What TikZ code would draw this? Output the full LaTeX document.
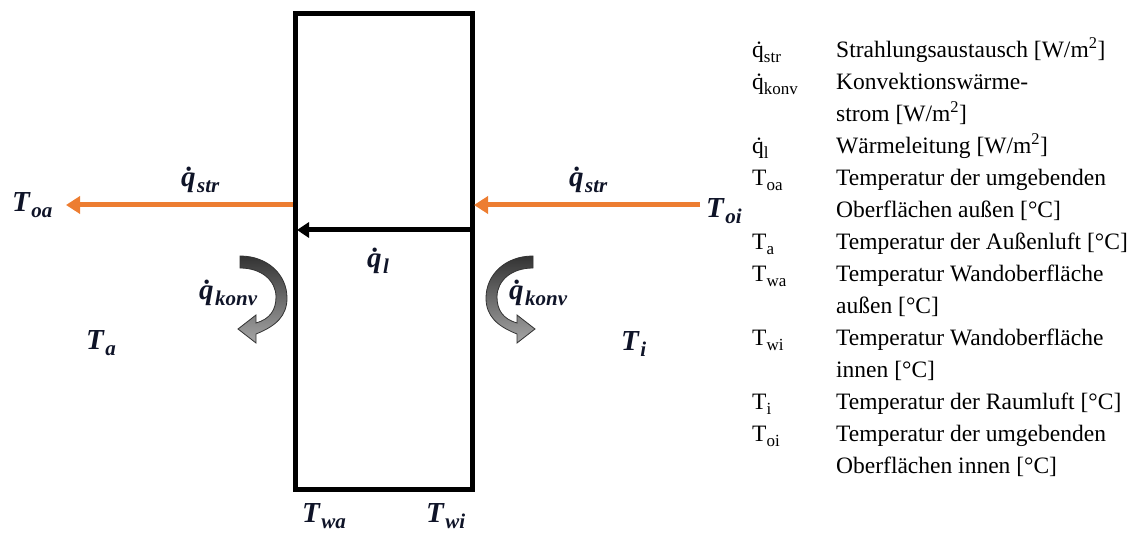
\documentclass[tikz,border=0pt]{standalone}
\usepackage{fontspec}
\setmainfont{Liberation Serif}
\usetikzlibrary{arrows.meta}
\definecolor{orng}{RGB}{237,125,49}
\definecolor{labcol}{RGB}{15,20,40}
\newcommand{\lsub}[1]{\hspace{1.5pt}\raisebox{-6pt}{\fontsize{21}{21}\selectfont #1}}
\newcommand{\gsub}[1]{\raisebox{-4.5pt}{\fontsize{17}{17}\selectfont #1}}
\newcommand{\qd}{\.{q}}
\tikzset{
  lab/.style={font=\fontsize{29}{30}\selectfont\bfseries\itshape, text=labcol, inner sep=0pt, anchor=base west},
  leg/.style={font=\fontsize{23.5}{28}\selectfont, anchor=base west, inner sep=0pt},
  oarrow/.style={draw=orng, line width=5pt, -{Triangle[length=14pt,width=17pt]}},
  barrow/.style={draw=black, line width=5pt, -{Triangle[length=12pt,width=15pt]}},
  konvarrow/.pic={
    \path[draw=black!80, line width=0.8pt, top color=black!80, bottom color=black!35]
      (0,0) .. controls (28,0) and (47,19) .. (47,42)
      .. controls (47,60) and (36,70) .. (16,78)
      -- (16,87) -- (-2,73) -- (16,59) -- (16,67)
      .. controls (30,63) and (36,54) .. (36,41)
      .. controls (36,25) and (22,12) .. (0,12) -- cycle;
  }
}
\begin{document}
\begin{tikzpicture}[x=1pt,y=-1pt]
\useasboundingbox (0,0) rectangle (1144,534);
% wall
\draw[line width=5pt] (295,14) rectangle (472,490);
\coordinate (wLo) at (293,205);
\coordinate (wRo) at (474,205);
\coordinate (wRl) at (472,230);
\coordinate (wLl) at (297,230);
\coordinate (oaEnd) at (66,205);
\coordinate (oiStart) at (700,205);
\draw[oarrow] (wLo) -- (oaEnd);
\draw[oarrow] (oiStart) -- (wRo);
\draw[barrow] (wRl) -- (wLl);
% convection arrows
\pic at (240,256) {konvarrow};
\pic[xscale=-1] at (533,256) {konvarrow};
% labels
\node[lab] (qstrL) at (181,187) {\qd\lsub{str}};
\node[lab] (qstrR) at (569,187) {\qd\lsub{str}};
\node[lab] (Toa) at (12,212) {T\lsub{oa}};
\node[lab] (Toi) at (706,218) {T\lsub{oi}};
\node[lab] (ql) at (367,268) {\qd\lsub{l}};
\node[lab] (qkL) at (199,300) {\qd\lsub{konv}};
\node[lab] (qkR) at (509,300) {\qd\lsub{konv}};
\node[lab] (Ta) at (86,350) {T\lsub{a}};
\node[lab] (Ti) at (621,351) {T\lsub{i}};
\node[lab] (Twa) at (302,522) {T\lsub{wa}};
\node[lab] (Twi) at (426,522) {T\lsub{wi}};
% legend symbols
\node[leg] (s1) at (752,58) {\qd\gsub{str}};
\node[leg] (s2) at (752,90) {\qd\gsub{konv}};
\node[leg] (s3) at (752,154) {\qd\gsub{l}};
\node[leg] (s4) at (752,186) {T\gsub{oa}};
\node[leg] (s5) at (752,250) {T\gsub{a}};
\node[leg] (s6) at (752,282) {T\gsub{wa}};
\node[leg] (s7) at (752,346) {T\gsub{wi}};
\node[leg] (s8) at (752,410) {T\gsub{i}};
\node[leg] (s9) at (752,442) {T\gsub{oi}};
% legend descriptions
\node[leg] (d1) at (836,58) {Strahlungsaustausch [W/m\textsuperscript{2}]};
\node[leg] (d2) at (836,90) {Konvektionswärme-};
\node[leg] (d3) at (836,122) {strom [W/m\textsuperscript{2}]};
\node[leg] (d4) at (836,154) {Wärmeleitung [W/m\textsuperscript{2}]};
\node[leg] (d5) at (836,186) {Temperatur der umgebenden};
\node[leg] (d6) at (836,218) {Oberflächen außen [°C]};
\node[leg] (d7) at (836,250) {Temperatur der Außenluft [°C]};
\node[leg] (d8) at (836,282) {Temperatur Wandoberfläche};
\node[leg] (d9) at (836,314) {außen [°C]};
\node[leg] (d10) at (836,346) {Temperatur Wandoberfläche};
\node[leg] (d11) at (836,378) {innen [°C]};
\node[leg] (d12) at (836,410) {Temperatur der Raumluft [°C]};
\node[leg] (d13) at (836,442) {Temperatur der umgebenden};
\node[leg] (d14) at (836,474) {Oberflächen innen [°C]};
\end{tikzpicture}
\end{document}
